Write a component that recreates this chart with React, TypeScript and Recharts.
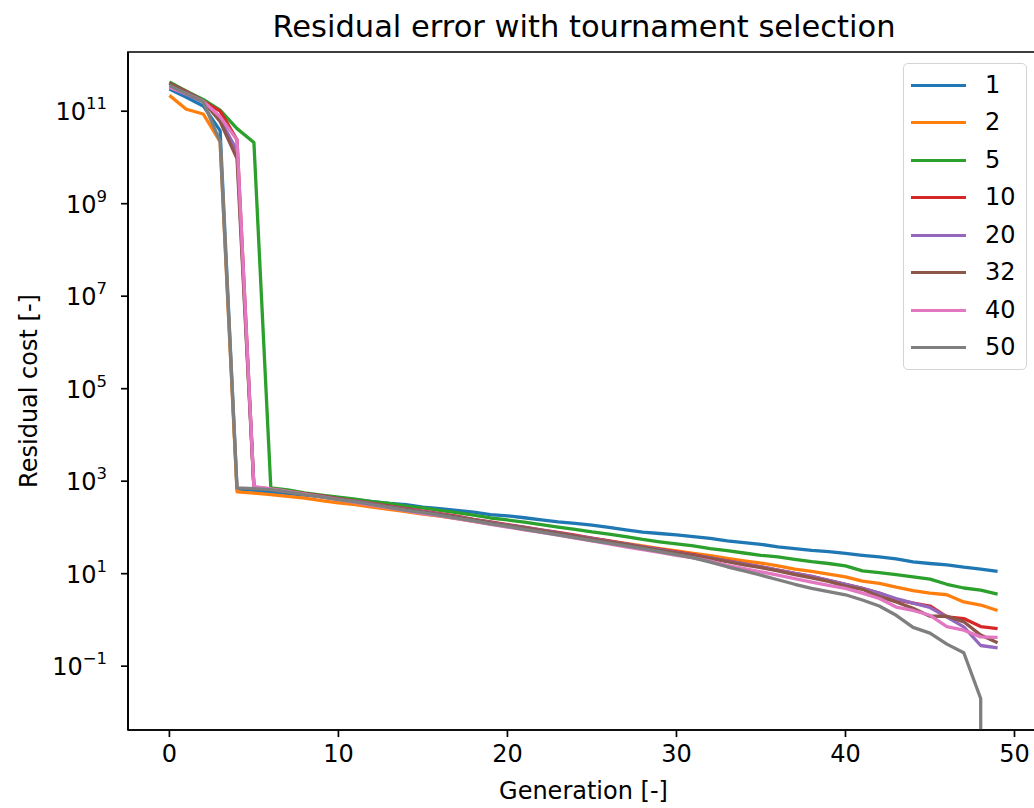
import { LineChart, Line, XAxis, YAxis, ReferenceArea } from 'recharts';

const generations = Array.from({ length: 50 }, (_, i) => i);

const pop1 = [
  3.0e11, 2.0e11, 1.3e11, 3.8e10, 680, 630, 590, 540, 500, 470,
  440, 400, 360, 330, 310, 275, 255, 235, 215, 190,
  178, 162, 145, 132, 123, 112, 100, 89, 79, 74,
  69, 63, 58, 51, 47, 43, 38, 35, 32, 30,
  27.5, 25, 23, 21, 18, 16.6, 15.5, 13.8, 12.6, 11.2,
];
const pop2 = [
  2.2e11, 1.1e11, 8.7e10, 2.2e10, 590, 550, 510, 470, 430, 380,
  340, 310, 275, 245, 220, 195, 175, 155, 135, 120,
  105, 93, 83, 74, 65, 58, 51, 45, 40, 35,
  31, 27.5, 24.5, 21.4, 19, 17, 14.8, 12.6, 11.2, 9.8,
  8.5, 6.9, 6.2, 5.1, 4.3, 3.8, 3.5, 2.45, 2.1, 1.6,
];
const pop5 = [
  4.3e11, 2.7e11, 1.8e11, 1.05e11, 4.2e10, 2.1e10, 720, 650, 560, 500,
  450, 410, 360, 330, 290, 265, 235, 210, 185, 160,
  145, 130, 115, 102, 91, 80, 72, 63, 55, 49,
  44, 40, 35, 31.6, 28, 25, 23, 20.4, 18.2, 16.6,
  14.8, 11.5, 10.5, 9.5, 8.5, 7.6, 5.9, 4.9, 4.4, 3.6,
];
const pop10 = [
  4.0e11, 2.6e11, 1.65e11, 1.0e11, 2.4e10, 740, 680, 600, 540, 480,
  420, 370, 330, 290, 255, 225, 200, 175, 150, 132,
  115, 102, 89, 78, 68, 59, 51, 44, 38, 34,
  29.5, 25.7, 21.9, 19, 16.2, 14.1, 12, 10.2, 8.7, 7.2,
  5.9, 4.8, 3.8, 2.75, 2.3, 2.0, 1.17, 1.07, 0.72, 0.65,
];
const pop20 = [
  3.3e11, 2.3e11, 1.6e11, 6.6e10, 1.4e10, 720, 660, 590, 525, 470,
  410, 365, 325, 280, 250, 220, 195, 170, 148, 129,
  112, 100, 87, 76, 66, 58, 50, 44, 38, 33,
  29, 25, 22, 18.6, 16.2, 14.1, 12, 10.2, 8.7, 7.2,
  5.9, 4.8, 3.8, 2.9, 2.3, 1.86, 1.15, 0.71, 0.28, 0.25,
];
const pop32 = [
  4.0e11, 2.7e11, 1.65e11, 6.0e10, 9.5e9, 720, 660, 590, 525, 460,
  410, 355, 316, 275, 245, 214, 190, 166, 145, 126,
  110, 98, 85, 74, 65, 56, 49, 43, 37, 32,
  28, 24.5, 21.4, 18.2, 15.5, 13.5, 11.5, 9.5, 8.1, 6.8,
  5.4, 4.6, 3.2, 2.45, 1.78, 1.2, 1.2, 0.91, 0.47, 0.32,
];
const pop40 = [
  3.3e11, 2.4e11, 1.65e11, 7.6e10, 2.4e10, 760, 680, 600, 525, 460,
  400, 350, 300, 265, 230, 200, 178, 155, 135, 117,
  102, 89, 78, 68, 59, 51, 44, 38, 33, 29,
  25, 22, 18.6, 15.1, 12.9, 11, 9.3, 7.8, 6.6, 5.6,
  4.8, 3.8, 2.9, 1.9, 1.6, 1.26, 0.72, 0.6, 0.43, 0.42,
];
// last value is zero in the original; a tiny value keeps the log scale happy
const pop50 = [
  3.6e11, 2.4e11, 1.6e11, 2.2e10, 720, 690, 660, 590, 510, 460,
  400, 355, 310, 270, 235, 210, 182, 158, 138, 120,
  105, 91, 79, 69, 60, 52, 46, 40, 35, 30,
  25.7, 21.9, 17.8, 14.1, 11.5, 9.3, 7.4, 5.9, 4.8, 4.1,
  3.5, 2.7, 2.0, 1.26, 0.69, 0.52, 0.3, 0.195, 0.02, 1e-300,
];

const seriesNames = ['1', '2', '5', '10', '20', '32', '40', '50'];
const seriesValues = [pop1, pop2, pop5, pop10, pop20, pop32, pop40, pop50];
const seriesColors = ['#1f77b4', '#ff7f0e', '#2ca02c', '#d62728', '#9467bd', '#8c564b', '#e377c2', '#7f7f7f'];

const xTicks = [0, 10, 20, 30, 40, 50];
const yTicks = [1e-1, 1e1, 1e3, 1e5, 1e7, 1e9, 1e11];
const xDomain = [-2.45, 51.45];
const yDomain = [Math.pow(10, -2.38), Math.pow(10, 12.28)];

const FONT = '"DejaVu Sans", sans-serif';
const LABEL_SIZE = 24;

const data = generations.map((g, i) => {
  const row: Record<string, number> = { gen: g };
  seriesNames.forEach((name, k) => {
    row['s' + name] = seriesValues[k][i];
  });
  return row;
});

function XTick(props: any) {
  const { x, payload } = props;
  return (
    <text x={x} y={762} textAnchor="middle" fontFamily={FONT} fontSize={LABEL_SIZE} fill="#000">
      {payload.value}
    </text>
  );
}

function YTick(props: any) {
  const { y, payload } = props;
  const exp = Math.round(Math.log10(payload.value));
  const expText = exp < 0 ? '\u2212' + Math.abs(exp) : String(exp);
  return (
    <text x={107} y={y + 9} textAnchor="end" fontFamily={FONT} fontSize={LABEL_SIZE} fill="#000">
      10
      <tspan dy={-11} fontSize={16.5}>{expText}</tspan>
    </text>
  );
}

function LegendBox() {
  return (
    <div
      style={{
        position: 'absolute',
        left: 903,
        top: 63,
        width: 122,
        height: 305,
        border: '1.5px solid #d4d4d4',
        borderRadius: 5,
        background: 'rgba(255,255,255,0.8)',
        fontFamily: FONT,
        fontSize: LABEL_SIZE,
      }}
    >
      {seriesNames.map((name, k) => (
        <div
          key={name}
          style={{ position: 'absolute', left: 0, top: 2.5 + k * 37.5, height: 37.5, width: 122 }}
        >
          <div
            style={{
              position: 'absolute',
              left: 7,
              top: 17.2,
              width: 55,
              height: 3.2,
              background: seriesColors[k],
            }}
          />
          <div style={{ position: 'absolute', left: 81, top: 4, lineHeight: '28px', color: '#000' }}>
            {name}
          </div>
        </div>
      ))}
    </div>
  );
}

export default function App() {
  return (
    <div
      style={{
        position: 'absolute',
        left: 0,
        top: 0,
        width: 1034,
        height: 808,
        overflow: 'hidden',
        background: '#fff',
        fontFamily: FONT,
      }}
    >
      <svg width={1034} height={60} style={{ position: 'absolute', left: 0, top: 0 }}>
        <text x={584} y={37} textAnchor="middle" fontFamily={FONT} fontSize={30.5} fill="#000">
          Residual error with tournament selection
        </text>
      </svg>
      <div style={{ position: 'absolute', left: 0, top: 0 }}>
        <LineChart
          width={1046}
          height={808}
          data={data}
          margin={{ top: 52, right: 7, left: 0, bottom: 0 }}
        >
          <XAxis
            dataKey="gen"
            type="number"
            domain={xDomain}
            ticks={xTicks}
            allowDataOverflow
            height={78}
            tickSize={7}
            tick={<XTick />}
            stroke="#000"
            strokeWidth={1.7}
            tickLine={{ stroke: '#000', strokeWidth: 1.7 }}
            label={{
              value: 'Generation [-]',
              position: 'insideBottom',
              offset: 9,
              fontFamily: FONT,
              fontSize: LABEL_SIZE,
              fill: '#000',
            }}
          />
          <YAxis
            type="number"
            scale="log"
            domain={yDomain}
            ticks={yTicks}
            allowDataOverflow
            width={128}
            tickSize={7}
            tick={<YTick />}
            stroke="#000"
            strokeWidth={1.7}
            tickLine={{ stroke: '#000', strokeWidth: 1.7 }}
            label={{
              value: 'Residual cost [-]',
              angle: -90,
              position: 'insideLeft',
              offset: 0,
              dx: 28,
              style: { textAnchor: 'middle' },
              fontFamily: FONT,
              fontSize: LABEL_SIZE,
              fill: '#000',
            }}
          />
          <ReferenceArea
            x1={xDomain[0]}
            x2={xDomain[1]}
            y1={yDomain[0]}
            y2={yDomain[1]}
            fill="none"
            stroke="#000"
            strokeWidth={1.7}
            ifOverflow="visible"
          />
          {seriesNames.map((name, k) => (
            <Line
              key={name}
              type="linear"
              dataKey={'s' + name}
              name={name}
              stroke={seriesColors[k]}
              strokeWidth={3.3}
              strokeLinejoin="round"
              dot={false}
              activeDot={false}
              isAnimationActive={false}
            />
          ))}
        </LineChart>
      </div>
      <LegendBox />
    </div>
  );
}
